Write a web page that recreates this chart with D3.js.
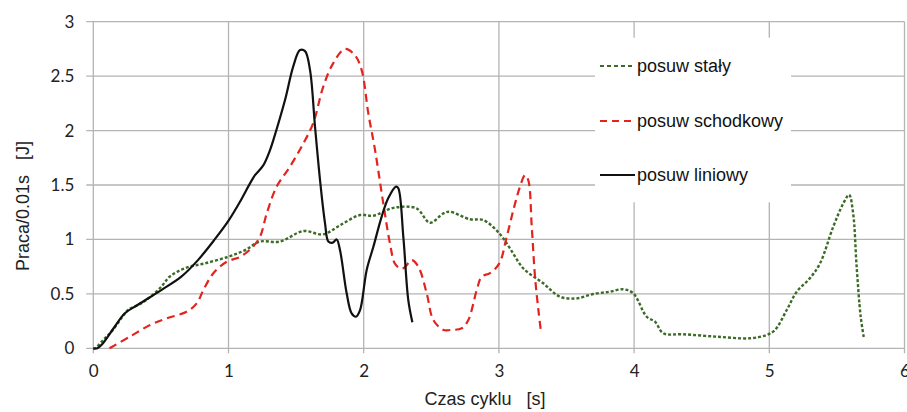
<!DOCTYPE html>
<html>
<head>
<meta charset="utf-8">
<script src="https://cdn.jsdelivr.net/npm/d3@7"></script>
<style>
  body { margin: 0; background: #fff; }
  svg text { white-space: pre; }
</style>
</head>
<body>
<div id="chart"></div>
<script>
// series: posuw stały (green dotted)
const staly_t = [0, 0.013, 0.074, 0.146, 0.207, 0.257, 0.35, 0.42, 0.503, 0.565, 0.676, 0.824, 0.996, 1.12, 1.233, 1.38, 1.553, 1.70, 1.825, 1.973, 2.07, 2.22, 2.39, 2.49, 2.59, 2.638, 2.786, 2.885, 3.003, 3.082, 3.18, 3.328, 3.452, 3.575, 3.698, 3.82, 3.92, 3.994, 4.093, 4.155, 4.216, 4.364, 4.61, 4.857, 4.98, 5.042, 5.129, 5.203, 5.3, 5.375, 5.473, 5.547, 5.59, 5.62, 5.646, 5.676, 5.70];
const staly_p = [0, 0, 0.077, 0.17, 0.275, 0.352, 0.41, 0.47, 0.566, 0.658, 0.735, 0.78, 0.84, 0.9, 0.98, 0.98, 1.077, 1.047, 1.13, 1.224, 1.218, 1.29, 1.285, 1.153, 1.24, 1.254, 1.185, 1.178, 1.056, 0.918, 0.735, 0.597, 0.474, 0.459, 0.499, 0.52, 0.542, 0.505, 0.29, 0.244, 0.138, 0.129, 0.107, 0.092, 0.122, 0.168, 0.352, 0.52, 0.643, 0.78, 1.117, 1.33, 1.41, 1.24, 0.75, 0.29, 0.092];

// series: posuw schodkowy (red dashed)
const schodkowy_t = [0.12, 0.27, 0.42, 0.543, 0.69, 0.765, 0.814, 0.888, 0.987, 1.085, 1.17, 1.233, 1.283, 1.356, 1.455, 1.553, 1.627, 1.70, 1.775, 1.862, 1.936, 1.985, 2.034, 2.084, 2.145, 2.194, 2.23, 2.27, 2.30, 2.355, 2.404, 2.466, 2.515, 2.59, 2.64, 2.725, 2.774, 2.836, 2.873, 2.934, 3.003, 3.058, 3.107, 3.156, 3.193, 3.217, 3.243, 3.267, 3.292, 3.309];
const schodkowy_p = [0, 0.107, 0.214, 0.275, 0.336, 0.413, 0.535, 0.69, 0.795, 0.84, 0.92, 1.025, 1.24, 1.485, 1.67, 1.88, 2.07, 2.40, 2.62, 2.75, 2.69, 2.555, 2.16, 1.82, 1.33, 0.964, 0.78, 0.735, 0.74, 0.81, 0.75, 0.505, 0.26, 0.168, 0.168, 0.184, 0.26, 0.535, 0.658, 0.69, 0.78, 1.025, 1.27, 1.485, 1.59, 1.545, 1.117, 0.658, 0.352, 0.175];

// series: posuw liniowy (black solid)
const liniowy_t = [0, 0.03, 0.06, 0.158, 0.232, 0.33, 0.503, 0.651, 0.774, 0.898, 0.999, 1.085, 1.159, 1.196, 1.257, 1.307, 1.331, 1.418, 1.479, 1.529, 1.566, 1.603, 1.64, 1.677, 1.714, 1.739, 1.77, 1.80, 1.825, 1.874, 1.911, 1.943, 1.973, 2.022, 2.071, 2.133, 2.182, 2.239, 2.256, 2.293, 2.33, 2.36];
const liniowy_p = [0, 0, 0.03, 0.198, 0.32, 0.40, 0.535, 0.658, 0.81, 1.0, 1.17, 1.346, 1.515, 1.59, 1.68, 1.82, 1.91, 2.28, 2.59, 2.74, 2.73, 2.555, 2.035, 1.545, 1.148, 0.98, 0.97, 1.0, 0.90, 0.505, 0.32, 0.29, 0.35, 0.72, 0.93, 1.21, 1.38, 1.485, 1.47, 1.025, 0.44, 0.24];

const xTicks = [0, 1, 2, 3, 4, 5, 6];
const yTicks = [0, 0.5, 1, 1.5, 2, 2.5, 3];
const seriesNames = ["posuw stały", "posuw schodkowy", "posuw liniowy"];

const W = 907, H = 412;
const plotLeft = 93.3, plotRight = 904.5, plotTop = 21.7, plotBottom = 348.3;

const svg = d3.select("#chart").append("svg")
  .attr("width", W).attr("height", H)
  .style("display", "block");

const x = d3.scaleLinear().domain([0, 6]).range([plotLeft, plotRight]);
const y = d3.scaleLinear().domain([0, 3]).range([plotBottom, plotTop]);

const gridColor = "#b4b4b4";

// horizontal grid lines (stick out to the left like tick marks)
svg.selectAll("line.h-grid").data(yTicks).enter()
  .append("line")
  .attr("class", "h-grid")
  .attr("x1", plotLeft - 7).attr("x2", plotRight)
  .attr("y1", d => y(d)).attr("y2", d => y(d))
  .attr("stroke", gridColor).attr("stroke-width", 1.3);

// vertical grid lines
svg.selectAll("line.v-grid").data(xTicks).enter()
  .append("line")
  .attr("class", "v-grid")
  .attr("x1", d => x(d)).attr("x2", d => x(d))
  .attr("y1", plotTop).attr("y2", plotBottom + 5)
  .attr("stroke", gridColor).attr("stroke-width", 1.3);

// axes, labels only
const yAxis = svg.append("g")
  .attr("transform", `translate(${plotLeft},0)`)
  .call(d3.axisLeft(y).tickValues(yTicks).tickSize(0).tickPadding(19).tickFormat(d3.format("")));
const xAxis = svg.append("g")
  .attr("transform", `translate(0,${plotBottom})`)
  .call(d3.axisBottom(x).tickValues(xTicks).tickSize(0).tickPadding(17).tickFormat(d3.format("d")));
[yAxis, xAxis].forEach(g => {
  g.select(".domain").remove();
  g.selectAll("text")
    .style("font-family", "Lato, 'Open Sans', sans-serif")
    .style("font-size", "17px")
    .attr("fill", "#222");
});

// axis titles
svg.append("text")
  .attr("transform", "translate(28.5,206) rotate(-90)")
  .attr("text-anchor", "middle")
  .style("font-family", "'Liberation Sans', Arial, sans-serif")
  .style("font-size", "18px")
  .attr("fill", "#222")
  .text("Praca/0.01s   [J]");

svg.append("text")
  .attr("x", 485).attr("y", 405)
  .attr("text-anchor", "middle")
  .style("font-family", "'Liberation Sans', Arial, sans-serif")
  .style("font-size", "18px")
  .attr("fill", "#222")
  .text("Czas cyklu   [s]");

// series styles
const styles = [
  {t: staly_t, p: staly_p, color: "#3b6b26", width: 2.4, dash: "3,2"},
  {t: schodkowy_t, p: schodkowy_p, color: "#e3231e", width: 2.2, dash: "8,5"},
  {t: liniowy_t, p: liniowy_p, color: "#111", width: 2.2, dash: null}
];

const line = d3.line()
  .x(d => x(d[0]))
  .y(d => y(d[1]))
  .curve(d3.curveCatmullRom.alpha(0.5));

styles.forEach(s => {
  svg.append("path")
    .datum(d3.zip(s.t, s.p))
    .attr("fill", "none")
    .attr("stroke", s.color)
    .attr("stroke-width", s.width)
    .attr("stroke-dasharray", s.dash)
    .attr("stroke-linejoin", "round")
    .attr("d", line);
});

// legend box covering grid lines
const legend = svg.append("g");
legend.append("rect")
  .attr("x", 595).attr("y", 37.7)
  .attr("width", 196).attr("height", 164.6)
  .attr("fill", "#fff");

const legendY = [66, 121, 175];
seriesNames.forEach((name, i) => {
  legend.append("line")
    .attr("x1", 600).attr("x2", 635)
    .attr("y1", legendY[i]).attr("y2", legendY[i])
    .attr("stroke", styles[i].color)
    .attr("stroke-width", i === 0 ? 2.2 : 2)
    .attr("stroke-dasharray", i === 0 ? "4,3" : i === 1 ? "7,5" : null);
  legend.append("text")
    .attr("x", 637).attr("y", legendY[i] + 6)
    .style("font-family", "'Liberation Sans', Arial, sans-serif")
    .style("font-size", "18px")
    .attr("fill", "#111")
    .text(name);
});
</script>
</body>
</html>
